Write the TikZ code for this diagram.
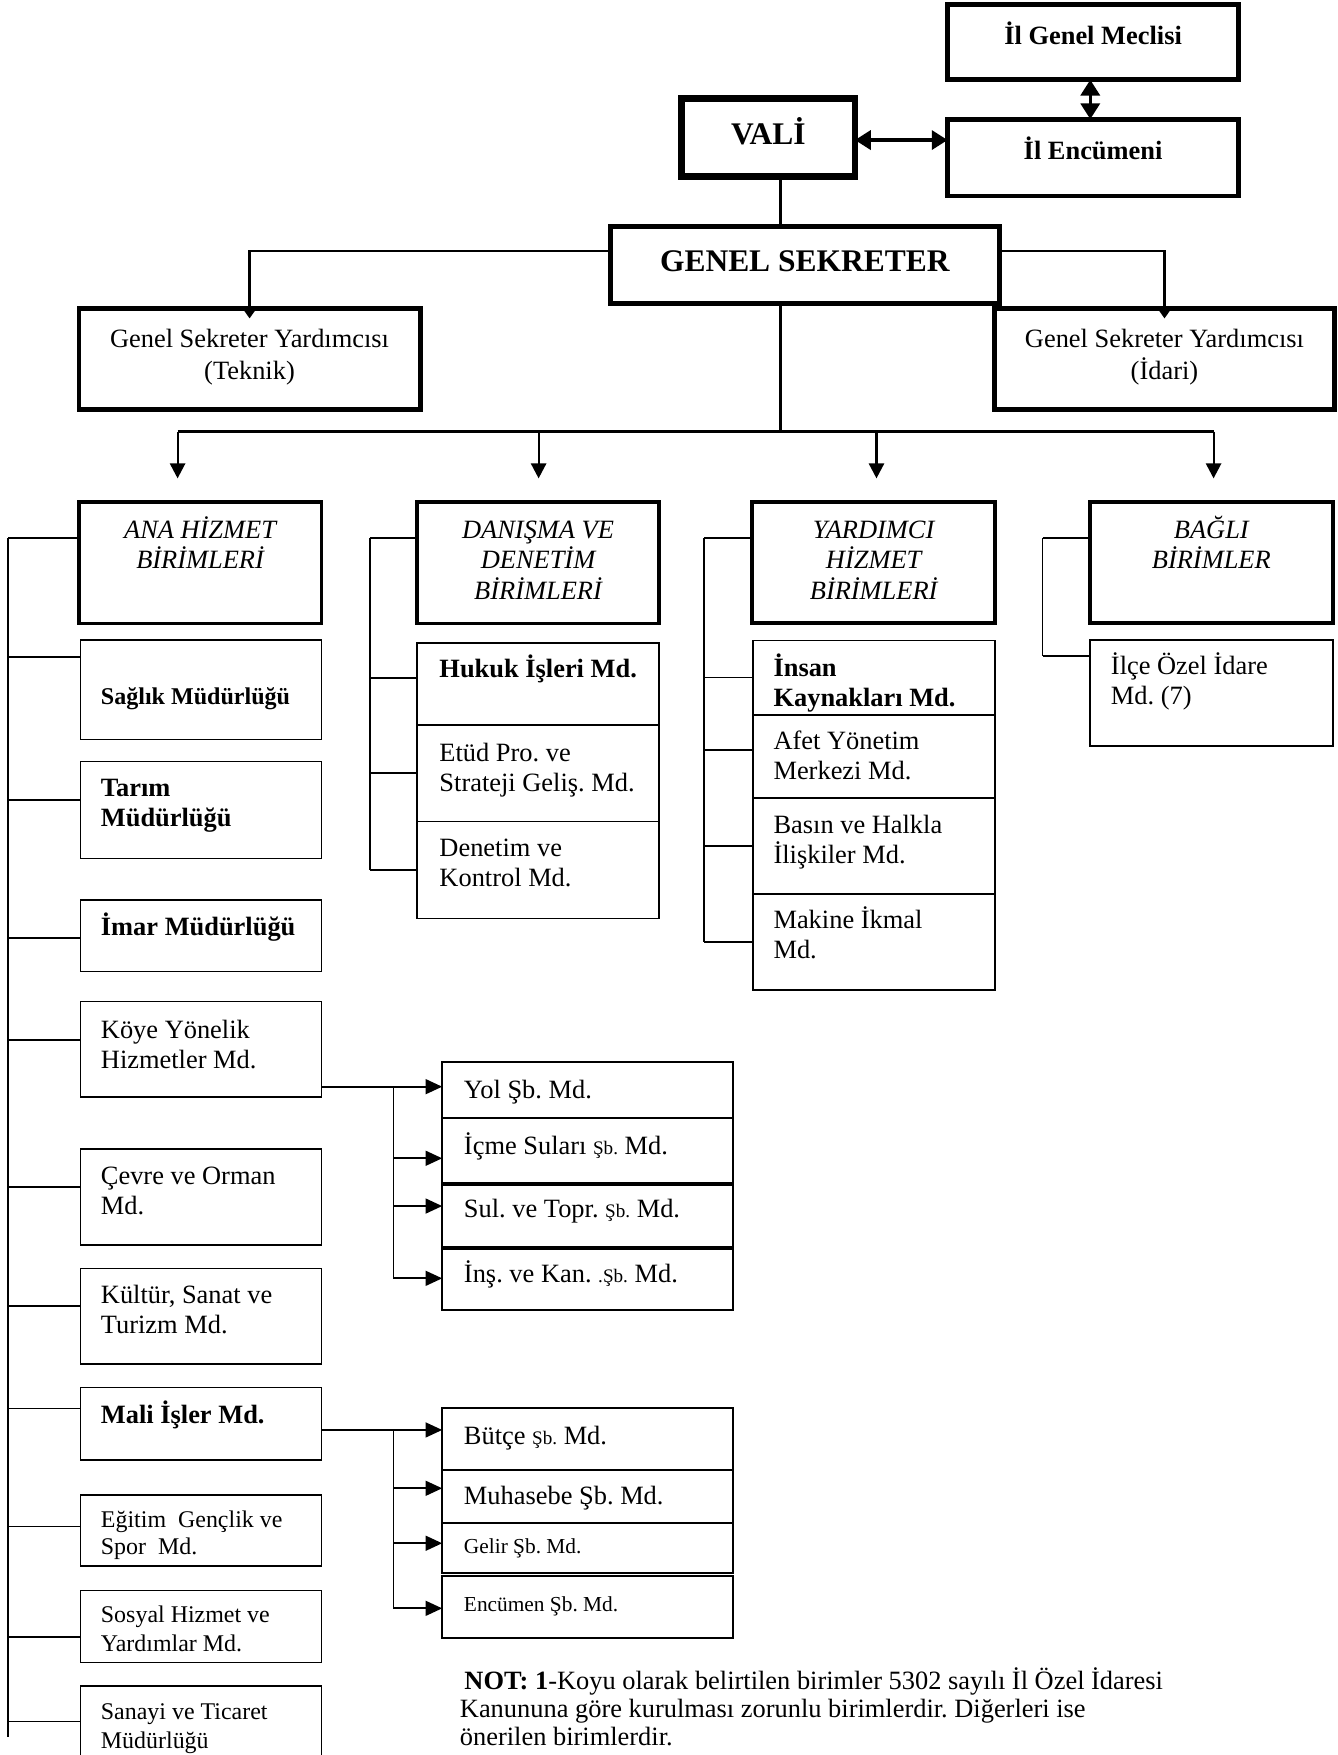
\documentclass[tikz,border=0pt]{standalone}
\usepackage{fontspec}
\setmainfont{Liberation Serif}
\usetikzlibrary{arrows.meta,fit}
\frenchspacing
\newcommand\T{\rule{0pt}{1em}}
\newcommand\fN{\fontsize{23.5}{26.7}\selectfont}
\newcommand\fNb{\fontsize{23.5}{26.7}\selectfont\bfseries}
\newcommand\fH{\fontsize{28}{30}\selectfont\bfseries}
\newcommand\fY{\fontsize{23.5}{28.2}\selectfont}
\newcommand\fC{\fontsize{23.5}{27}\selectfont\itshape}
\newcommand\fSb{\fontsize{21.4}{26.7}\selectfont\bfseries}
\newcommand\fS{\fontsize{21.3}{25.5}\selectfont}
\newcommand\fE{\fontsize{21.3}{24.5}\selectfont}
\newcommand\fG{\fontsize{19}{22}\selectfont}
\newcommand\fT{\fontsize{17}{20}\selectfont}
\newcommand\fNot{\fontsize{23.5}{25}\selectfont}
\begin{document}
\begin{tikzpicture}[x=1pt,y=-1pt,
  bx/.style={draw, inner sep=0pt, outer sep=0pt, line width=1.4pt},
  hb/.style={bx, line width=4.2pt},
  vb/.style={bx, line width=6pt},
  cb/.style={bx, line width=3.2pt},
  sb/.style={bx, line width=1.6pt},
  tl/.style={inner sep=0pt, outer sep=0pt, anchor=north west, align=left, font=\fN},
  tc/.style={inner sep=0pt, outer sep=0pt, anchor=north, align=center, font=\fN},
  cn/.style={line width=2.2pt},
  ln/.style={line width=1.5pt},
  garr/.style={cn, -{Triangle[length=7.5pt,width=10pt]}},
  darr/.style={line width=2.8pt, {Triangle[length=14pt,width=17pt]}-{Triangle[length=14pt,width=17pt]}},
  carr/.style={line width=1.8pt, -{Triangle[length=13.4pt,width=13.6pt]}},
  sarr/.style={line width=1.6pt, -{Triangle[length=14.8pt,width=13.3pt]}},
]
\useasboundingbox (0,0) rectangle (1190.4,1561.4);

% ---------- top ----------
\node[hb, fit={(843,4) (1102,71)}] (meclis) {};
\node[tc, font=\fNb] (meclis-t) at (972.5,16.2) {\T İl Genel Meclisi};
\node[hb, fit={(843,106) (1102,174.4)}] (encumen) {};
\node[tc, font=\fNb] (encumen-t) at (972.5,118.6) {\T İl Encümeni};
\node[vb, fit={(606.6,87.5) (760.7,157.2)}] (vali) {};
\node[tc, font=\fH] (vali-t) at (683.6,100.4) {\T VALİ};
\node[hb, fit={(543.3,201.7) (889,269.8)}] (gs) {};
\node[tc, font=\fH] (gs-t) at (716,213.2) {\T GENEL SEKRETER};
\node[hb, fit={(70.2,274.3) (373.9,364.2)}] (gsyT) {};
\node[tc, font=\fY] (gsyT-t) at (222,286.1) {\T Genel Sekreter Yardımcısı\\(Teknik)};
\node[hb, fit={(885.1,274.3) (1187,364)}] (gsyI) {};
\node[tc, font=\fY] (gsyI-t) at (1036,286.1) {\T Genel Sekreter Yardımcısı\\(İdari)};

\coordinate (dy) at (0,124.6);
\draw[darr] (vali.east |- dy) -- (encumen.west |- dy);
\coordinate (dx) at (970,0);
\draw[darr] (meclis.south -| dx) -- (encumen.north -| dx);
\coordinate (vx) at (694.3,0);
\draw[cn] (vali.south -| vx) -- (gs.north -| vx);
\coordinate (gy) at (0,223.5);
\draw[garr] (gs.west |- gy) -| ([yshift=-9pt]gsyT.north);
\draw[garr] (gs.east |- gy) -| ([yshift=-9pt]gsyI.north);

\coordinate (h1) at (158,384);
\coordinate (h2) at (479.2,384);
\coordinate (h3) at (779.8,384);
\coordinate (h4) at (1079.7,384);
\draw[cn] (gs.south -| vx) -- (vx |- h1);
\draw[cn] (h1) -- (h4);
\coordinate (a1) at (158,425.6);
\coordinate (a2) at (479.2,425.6);
\coordinate (a3) at (779.8,425.6);
\coordinate (a4) at (1079.7,425.6);
\draw[carr] (h1) -- (a1);
\draw[carr] (h2) -- (a2);
\draw[carr] (h3) -- (a3);
\draw[carr] (h4) -- (a4);

% ---------- category boxes ----------
\node[cb, fit={(70.5,446.6) (286,554.6)}] (ana) {};
\node[tc, font=\fC] (ana-t) at (178,455.6) {\T ANA HİZMET\\BİRİMLERİ};
\node[cb, fit={(371,446.6) (586.5,554.6)}] (dan) {};
\node[tc, font=\fC] (dan-t) at (478.7,455.6) {\T DANIŞMA VE\\DENETİM\\BİRİMLERİ};
\node[cb, fit={(669.3,446.6) (885.2,554.4)}] (yar) {};
\node[tc, font=\fC] (yar-t) at (777.3,455.6) {\T YARDIMCI\\HİZMET\\BİRİMLERİ};
\node[cb, fit={(969.6,446.6) (1185.8,554.4)}] (bag) {};
\node[tc, font=\fC] (bag-t) at (1077.7,455.6) {\T BAĞLI\\BİRİMLER};

% ---------- ana hizmet column ----------
\node[bx, fit={(71.7,569.5) (286,658)}] (saglik) {};
\node[tl, font=\fSb] (saglik-t) at (89.8,605) {\T Sağlık Müdürlüğü};
\node[bx, fit={(71.7,677.6) (286,763.6)}] (tarim) {};
\node[tl, font=\fNb] (tarim-t) at (89.8,685) {\T Tarım\\Müdürlüğü};
\node[bx, fit={(71.7,800.7) (286,864.5)}] (imar) {};
\node[tl, font=\fNb] (imar-t) at (89.8,809.2) {\T İmar Müdürlüğü};
\node[bx, fit={(71.7,891) (286,976)}] (koye) {};
\node[tl] (koye-t) at (89.8,900.6) {\T Köye Yönelik\\Hizmetler Md.};
\node[bx, fit={(71.7,1022) (286,1107.6)}] (cevre) {};
\node[tl] (cevre-t) at (89.8,1030.5) {\T Çevre ve Orman\\Md.};
\node[bx, fit={(71.7,1128.4) (286,1213.5)}] (kultur) {};
\node[tl] (kultur-t) at (89.8,1136.6) {\T Kültür, Sanat ve\\Turizm Md.};
\node[bx, fit={(71.7,1234.4) (286,1299)}] (mali) {};
\node[tl, font=\fNb] (mali-t) at (89.8,1242.6) {\T Mali İşler Md.};
\node[bx, fit={(71.7,1330) (286,1393.3)}] (egitim) {};
\node[tl, font=\fE] (egitim-t) at (89.8,1337.4) {\T Eğitim\ \ Gençlik ve\\Spor\ \ Md.};
\node[bx, fit={(71.7,1415.2) (286,1479.2)}] (sosyal) {};
\node[tl, font=\fS] (sosyal-t) at (89.8,1422.4) {\T Sosyal Hizmet ve\\Yardımlar Md.};
\node[bx, fit={(71.7,1500) (286,1572)}] (sanayi) {};
\node[tl, font=\fS] (sanayi-t) at (89.8,1508.5) {\T Sanayi ve Ticaret\\Müdürlüğü};

\coordinate (lt) at (7.2,478.7);
\coordinate (lb) at (7.2,1545);
\draw[ln] (lt) -- (lb);
\foreach \n/\y in {ana/478.7, saglik/584.7, tarim/712, imar/834.8, koye/925,
  cevre/1055.8, kultur/1162, mali/1253, egitim/1358.2, sosyal/1456.7, sanayi/1531.7}
  \draw[ln] (lt |- 0,\y) -- (\n.west |- 0,\y);

% ---------- danisma column ----------
\node[bx, fit={(371,572) (586.5,645)}] (hukuk) {};
\node[tl, font=\fNb] (hukuk-t) at (391,579.6) {\T Hukuk İşleri Md.};
\node[bx, fit={(371,645) (586.5,731)}] (etud) {};
\node[tl] (etud-t) at (391,653.6) {\T Etüd Pro. ve\\Strateji Geliş. Md.};
\node[bx, fit={(371,731) (586.5,817)}] (denetim) {};
\node[tl] (denetim-t) at (391,738.3) {\T Denetim ve\\Kontrol Md.};
\coordinate (dt) at (329,478.7);
\coordinate (db) at (329,774);
\draw[ln] (dt) -- (db);
\draw[ln] (dt) -- (dan.west |- dt);
\foreach \n/\y in {hukuk/603, etud/688, denetim/774}
  \draw[ln] (dt |- 0,\y) -- (\n.west |- 0,\y);

% ---------- yardimci column ----------
\node[bx, fit={(670,570) (885.2,636.1)}] (insan) {};
\node[tl, font=\fNb] (insan-t) at (688.2,578.4) {\T İnsan\\Kaynakları Md.};
\node[bx, fit={(670,636.1) (885.2,709.9)}] (afet) {};
\node[tl] (afet-t) at (688.2,643.6) {\T Afet Yönetim\\Merkezi Md.};
\node[bx, fit={(670,709.9) (885.2,795.6)}] (basin) {};
\node[tl] (basin-t) at (688.2,717.6) {\T Basın ve Halkla\\İlişkiler Md.};
\node[bx, fit={(670,795.6) (885.2,880.8)}] (makine) {};
\node[tl] (makine-t) at (688.2,802.5) {\T Makine İkmal\\Md.};
\coordinate (yt) at (626.6,478.8);
\coordinate (yb) at (626.6,838);
\draw[ln] (yt) -- (yb);
\draw[ln] (yt) -- (yar.west |- yt);
\foreach \n/\y in {insan/602.8, afet/667, basin/752.7, makine/838}
  \draw[ln] (yt |- 0,\y) -- (\n.west |- 0,\y);

% ---------- bagli column ----------
\node[bx, fit={(970,569.4) (1185.8,663.7)}] (ilce) {};
\node[tl] (ilce-t) at (988.4,576.8) {\T İlçe Özel İdare\\Md. (7)};
\coordinate (bt) at (927.6,478.8);
\coordinate (bb) at (927.6,583.6);
\draw[ln] (bt) -- (bb);
\draw[ln] (bt) -- (bag.west |- bt);
\draw[ln] (bb) -- (ilce.west |- bb);

% ---------- koye sub units ----------
\node[sb, fit={(393.4,944.5) (652,995)}] (yol) {};
\node[tl] (yol-t) at (412.8,953.4) {\T Yol Şb. Md.};
\node[sb, fit={(393.4,995) (652,1052.5)}] (icme) {};
\node[tl] (icme-t) at (412.8,1003.6) {\T İçme Suları {\fT Şb.} Md.};
\node[sb, fit={(393.4,1054.5) (652,1109.5)}] (sul) {};
\node[tl] (sul-t) at (412.8,1060.1) {\T Sul. ve Topr. {\fT Şb.} Md.};
\node[sb, fit={(393.4,1111.5) (652,1165.5)}] (ins) {};
\node[tl] (ins-t) at (412.8,1117.6) {\T İnş. ve Kan. {\fT .Şb.} Md.};
\coordinate (kt) at (350,966.8);
\coordinate (kb) at (350,1137.3);
\draw[sarr] (koye.east |- kt) -- (yol.west |- kt);
\draw[ln] (kt) -- (kb);
\draw[sarr] (kt |- 0,1030.5) -- (icme.west |- 0,1030.5);
\draw[sarr] (kt |- 0,1073) -- (sul.west |- 0,1073);
\draw[sarr] (kb) -- (ins.west |- kb);

% ---------- mali sub units ----------
\node[sb, fit={(393.4,1253) (652,1307.8)}] (butce) {};
\node[tl] (butce-t) at (412.8,1261.8) {\T Bütçe {\fT Şb.} Md.};
\node[sb, fit={(393.4,1307.8) (652,1354.7)}] (muhasebe) {};
\node[tl] (muhasebe-t) at (412.8,1315.2) {\T Muhasebe Şb. Md.};
\node[sb, fit={(393.4,1354.7) (652,1399.6)}] (gelir) {};
\node[tl, font=\fG] (gelir-t) at (412.8,1362.7) {\T Gelir Şb. Md.};
\node[sb, fit={(393.4,1402.4) (652,1457.6)}] (encsb) {};
\node[tl, font=\fG] (encsb-t) at (412.8,1414.7) {\T Encümen Şb. Md.};
\coordinate (mt) at (350,1272.2);
\coordinate (mb) at (350,1430.9);
\draw[sarr] (mali.east |- mt) -- (butce.west |- mt);
\draw[ln] (mt) -- (mb);
\draw[sarr] (mt |- 0,1324.1) -- (muhasebe.west |- 0,1324.1);
\draw[sarr] (mt |- 0,1373) -- (gelir.west |- 0,1373);
\draw[sarr] (mb) -- (encsb.west |- mb);

% ---------- note ----------
\node[tl, font=\fNot] (note) at (409.2,1479.5) {\T\hspace*{4pt}\textbf{NOT: 1}-Koyu olarak belirtilen birimler 5302 sayılı İl Özel İdaresi\\Kanununa göre kurulması zorunlu birimlerdir. Diğerleri ise\\önerilen birimlerdir.};
\end{tikzpicture}
\end{document}
